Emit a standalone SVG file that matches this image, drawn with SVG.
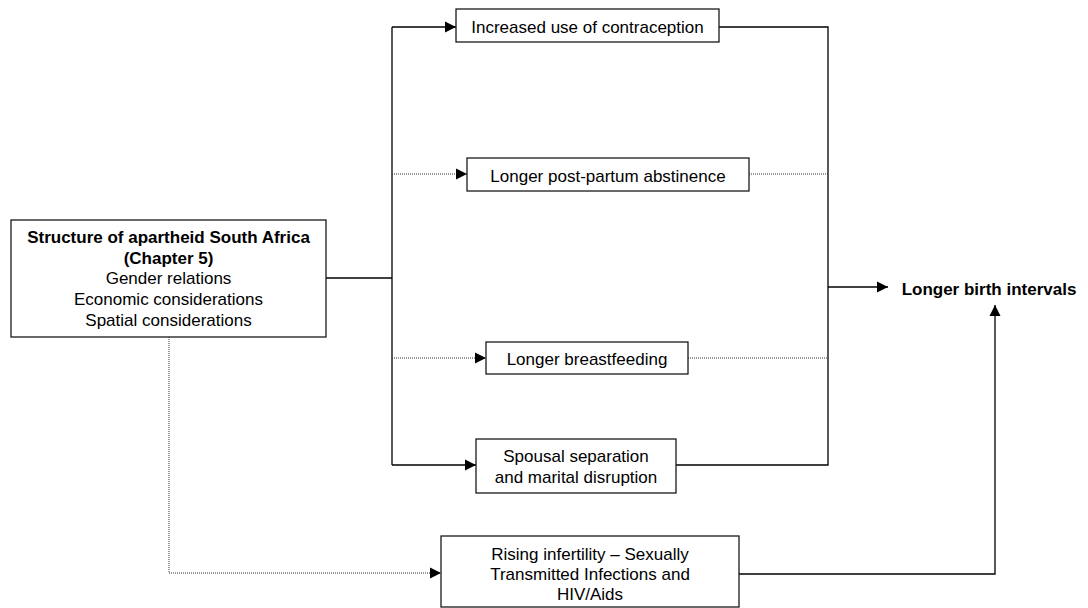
<svg xmlns="http://www.w3.org/2000/svg" width="1088" height="608" viewBox="0 0 1088 608">
<style>
.box{fill:#fff;stroke:#1a1a1a;stroke-width:1.3}
text{font-family:"Liberation Sans",Arial,sans-serif;font-size:17px;fill:#000;text-anchor:middle}
.b{font-weight:bold}
.solid{fill:none;stroke:#000;stroke-width:1.3}
.dot{fill:none;stroke:#333;stroke-width:1;stroke-dasharray:1 1}
</style>
<defs>
<marker id="ah" markerUnits="userSpaceOnUse" markerWidth="12" markerHeight="12" viewBox="0 0 12 12" refX="11" refY="6" orient="auto">
<path d="M0 0.5 L11 6 L0 11.5 Z" fill="#000"/>
</marker>
</defs>
<g id="connectors">
<path class="solid" d="M326 278 H392"/>
<path class="solid" d="M392 27 V465"/>
<path class="solid" d="M392 27 H456" marker-end="url(#ah)"/>
<path class="dot" d="M392 174 H467" marker-end="url(#ah)"/>
<path class="dot" d="M392 358 H486" marker-end="url(#ah)"/>
<path class="solid" d="M392 465 H476" marker-end="url(#ah)"/>
<path class="solid" d="M719 27 H828 V465 H676"/>
<path class="dot" d="M749 174 H828"/>
<path class="dot" d="M688 358 H828"/>
<path class="solid" d="M828 287 H888" marker-end="url(#ah)"/>
<path class="dot" d="M169 337 V573 H441" marker-end="url(#ah)"/>
<path class="solid" d="M739 574 H995 V305" marker-end="url(#ah)"/>
</g>
<g id="structure">
<rect class="box" x="11" y="220" width="315" height="117"/>
<text x="168.5" y="243" class="b">Structure of apartheid South Africa</text>
<text x="168.5" y="263.5" class="b">(Chapter 5)</text>
<text x="168.5" y="284">Gender relations</text>
<text x="168.5" y="305">Economic considerations</text>
<text x="168.5" y="326">Spatial considerations</text>
</g>
<g id="contraception">
<rect class="box" x="456" y="9" width="263" height="33"/>
<text x="587.5" y="33">Increased use of contraception</text>
</g>
<g id="abstinence">
<rect class="box" x="467" y="158" width="282" height="33"/>
<text x="608" y="182">Longer post-partum abstinence</text>
</g>
<g id="breastfeeding">
<rect class="box" x="486" y="342" width="202" height="32"/>
<text x="587" y="365">Longer breastfeeding</text>
</g>
<g id="spousal">
<rect class="box" x="476" y="439" width="200" height="54"/>
<text x="576" y="462">Spousal separation</text>
<text x="576" y="483">and marital disruption</text>
</g>
<g id="infertility">
<rect class="box" x="441" y="536" width="298" height="71"/>
<text x="590" y="560">Rising infertility – Sexually</text>
<text x="590" y="580">Transmitted Infections and</text>
<text x="590" y="600">HIV/Aids</text>
</g>
<g id="outcome">
<text x="989" y="295" class="b">Longer birth intervals</text>
</g>
</svg>
